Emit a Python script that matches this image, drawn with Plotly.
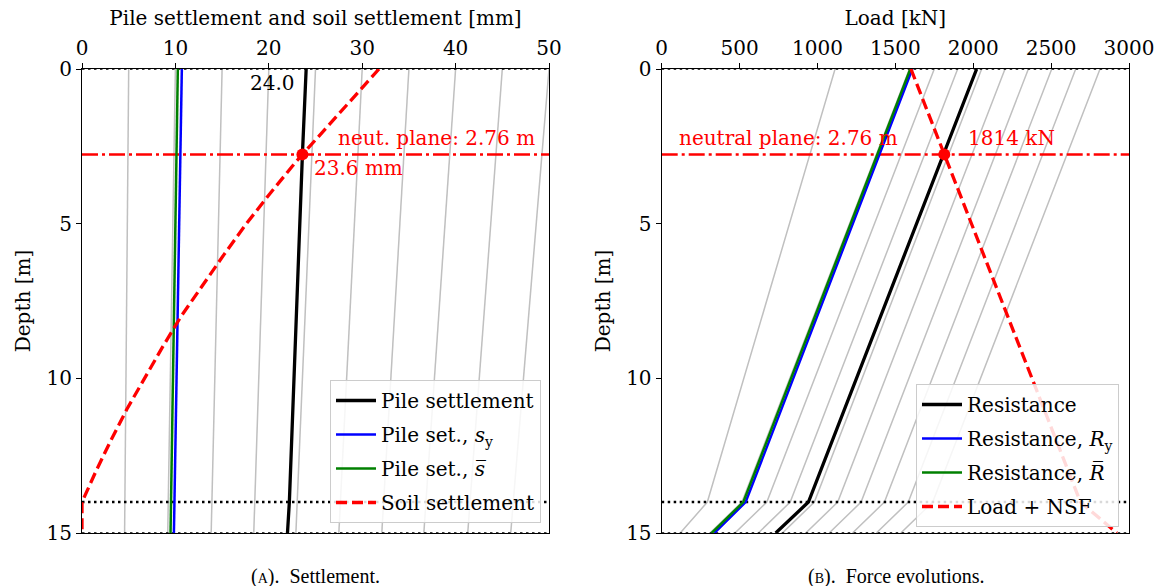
import plotly.graph_objects as go

# ---------------- data ----------------
# Left panel: settlements [mm] vs depth [m]
depth_soil = [0, 1, 2, 2.76, 3, 4, 5, 6, 7, 8, 9, 10, 11, 12, 13, 14, 15]
soil_settlement = [31.8, 28.8, 25.8, 23.6, 22.9, 20.2, 17.6, 15.2, 12.9, 10.6, 8.6, 6.7, 4.8, 3.1, 1.5, 0.0, 0.0]

depth_pile = [0, 2.76, 14, 15]
pile_settlement = [24.0, 23.6, 22.2, 22.0]
pile_set_sy = [10.69, 10.53, 9.90, 9.84]
pile_set_sbar = [10.26, 10.12, 9.53, 9.48]

depth_ends = [0, 15]
gray_set_head = [5, 10, 15, 20, 25, 30, 35, 40, 45, 50]
gray_set_toe = [4.56, 9.18, 13.83, 18.39, 22.9, 27.5, 32.1, 36.6, 41.3, 45.9]

# Right panel: forces [kN] vs depth [m]
depth_force = [0, 14, 15]
resistance = [2022, 942, 732]
resistance_Ry = [1609, 539, 338]
resistance_Rbar = [1596, 524, 321]
load_nsf = [1600, 2688, 2922]

gray_res_head = [1113, 1590, 1750, 1900, 2054, 2204, 2354, 2504, 2658, 2814]
gray_res_14 = [293, 515, 675, 825, 980, 1130, 1280, 1430, 1583, 1740]
gray_res_15 = [119, 310, 470, 620, 775, 925, 1075, 1225, 1378, 1535]

neutral_plane = 2.76
np_settlement = 23.6
np_force = 1814
layer_bottom = 14.0
pile_toe = 15.0

# ---------------- style ----------------
FONT = "DejaVu Serif"
FS = 20
GRAY = "#c0c0c0"
RED = "#ff0000"
W, H = 1161, 586

fig = go.Figure()

# ---- left panel ----
for h, t in zip(gray_set_head, gray_set_toe):
    fig.add_trace(go.Scatter(x=[h, t], y=depth_ends, mode="lines",
                             line=dict(color=GRAY, width=1.5), showlegend=False,
                             hoverinfo="skip", xaxis="x", yaxis="y"))
for yy, w in [(0, 1.5), (pile_toe, 1.5), (layer_bottom, 2.5)]:
    fig.add_trace(go.Scatter(x=[0, 50], y=[yy, yy], mode="lines",
                             line=dict(color="black", width=w, dash="2.5px,3.5px"),
                             showlegend=False, hoverinfo="skip", xaxis="x", yaxis="y"))
fig.add_trace(go.Scatter(x=[0, 50], y=[neutral_plane, neutral_plane], mode="lines",
                         line=dict(color=RED, width=2.5, dash="16px,4px,3px,4px"),
                         showlegend=False, hoverinfo="skip", xaxis="x", yaxis="y"))
fig.add_trace(go.Scatter(x=pile_settlement, y=depth_pile, mode="lines", name="Pile settlement",
                         line=dict(color="black", width=3.3), legend="legend",
                         legendgroup="a1", xaxis="x", yaxis="y"))
fig.add_trace(go.Scatter(x=pile_set_sy, y=depth_pile, mode="lines",
                         name="Pile set., <i>s</i><sub>y</sub>",
                         line=dict(color="#0000ff", width=2.5), legend="legend",
                         legendgroup="a2", xaxis="x", yaxis="y"))
fig.add_trace(go.Scatter(x=pile_set_sbar, y=depth_pile, mode="lines",
                         name="Pile set., <i>s\u0305</i>",
                         line=dict(color="#008000", width=2.5), legend="legend",
                         legendgroup="a3", xaxis="x", yaxis="y"))
fig.add_trace(go.Scatter(x=soil_settlement, y=depth_soil, mode="lines", name="Soil settlement",
                         line=dict(color=RED, width=3.3, dash="11px,5px"), legend="legend",
                         legendgroup="a4", xaxis="x", yaxis="y"))
fig.add_trace(go.Scatter(x=[np_settlement], y=[neutral_plane], mode="markers",
                         marker=dict(color=RED, size=12), showlegend=False,
                         hoverinfo="skip", xaxis="x", yaxis="y"))

# ---- right panel ----
for a, b, c in zip(gray_res_head, gray_res_14, gray_res_15):
    fig.add_trace(go.Scatter(x=[a, b, c], y=depth_force, mode="lines",
                             line=dict(color=GRAY, width=1.5), showlegend=False,
                             hoverinfo="skip", xaxis="x2", yaxis="y2"))
for yy, w in [(0, 1.5), (pile_toe, 1.5), (layer_bottom, 2.5)]:
    fig.add_trace(go.Scatter(x=[0, 3000], y=[yy, yy], mode="lines",
                             line=dict(color="black", width=w, dash="2.5px,3.5px"),
                             showlegend=False, hoverinfo="skip", xaxis="x2", yaxis="y2"))
fig.add_trace(go.Scatter(x=[0, 3000], y=[neutral_plane, neutral_plane], mode="lines",
                         line=dict(color=RED, width=2.5, dash="16px,4px,3px,4px"),
                         showlegend=False, hoverinfo="skip", xaxis="x2", yaxis="y2"))
fig.add_trace(go.Scatter(x=resistance, y=depth_force, mode="lines", name="Resistance",
                         line=dict(color="black", width=3.3), legend="legend2",
                         legendgroup="b1", xaxis="x2", yaxis="y2"))
fig.add_trace(go.Scatter(x=resistance_Ry, y=depth_force, mode="lines",
                         name="Resistance, <i>R</i><sub>y</sub>",
                         line=dict(color="#0000ff", width=2.5), legend="legend2",
                         legendgroup="b2", xaxis="x2", yaxis="y2"))
fig.add_trace(go.Scatter(x=resistance_Rbar, y=depth_force, mode="lines",
                         name="Resistance, <i>R\u0305</i>",
                         line=dict(color="#008000", width=2.5), legend="legend2",
                         legendgroup="b3", xaxis="x2", yaxis="y2"))
fig.add_trace(go.Scatter(x=load_nsf, y=depth_force, mode="lines", name="Load + NSF",
                         line=dict(color=RED, width=3.3, dash="11px,5px"), legend="legend2",
                         legendgroup="b4", xaxis="x2", yaxis="y2"))
fig.add_trace(go.Scatter(x=[np_force], y=[neutral_plane], mode="markers",
                         marker=dict(color=RED, size=12), showlegend=False,
                         hoverinfo="skip", xaxis="x2", yaxis="y2"))

# ---------------- layout ----------------
xl = [82 / W, 549 / W]
xr = [661.7 / W, 1129 / W]
yd = [1 - 533 / H, 1 - 69 / H]

xcommon = dict(side="top", ticks="outside", ticklen=5, tickwidth=1.2, tickcolor="black",
               showline=True, linecolor="black", linewidth=1.2, mirror=True, automargin=False,
               showgrid=False, zeroline=False, tickfont=dict(family=FONT, size=FS, color="black"))
ycommon = dict(range=[15, 0], ticks="outside", ticklen=5, tickwidth=1.2, tickcolor="black",
               showline=True, linecolor="black", linewidth=1.2, mirror=True, automargin=False,
               showgrid=False, zeroline=False, tickvals=[0, 5, 10, 15],
               tickfont=dict(family=FONT, size=FS, color="black"),
               title=dict(text="Depth [m]", font=dict(family=FONT, size=FS, color="black"), standoff=10))

legcommon = dict(font=dict(family=FONT, size=FS, color="black"), bgcolor="rgba(255,255,255,0.85)",
                 bordercolor="#cccccc", borderwidth=1, tracegroupgap=5,
                 xanchor="right", yanchor="bottom", itemwidth=40)

fig.update_layout(
    width=W, height=H,
    margin=dict(l=0, r=0, t=0, b=0, autoexpand=False),
    plot_bgcolor="white", paper_bgcolor="white",
    font=dict(family=FONT, size=FS, color="black"),
    xaxis=dict(domain=xl, range=[0, 50], anchor="y", tickvals=[0, 10, 20, 30, 40, 50],
               title=dict(text="Pile settlement and soil settlement [mm]",
                          font=dict(family=FONT, size=FS, color="black"), standoff=4), **xcommon),
    yaxis=dict(domain=yd, anchor="x", **ycommon),
    xaxis2=dict(domain=xr, range=[0, 3000], anchor="y2",
                tickvals=[0, 500, 1000, 1500, 2000, 2500, 3000],
                title=dict(text="Load [kN]", font=dict(family=FONT, size=FS, color="black"),
                           standoff=4), **xcommon),
    yaxis2=dict(domain=yd, anchor="x2", **ycommon),
    legend=dict(x=541 / W, y=1 - 523 / H, **legcommon),
    legend2=dict(x=1119 / W, y=1 - 527 / H, **legcommon),
    showlegend=True,
)

ann = []
ann.append(dict(x=23.0, y=0.45, xref="x", yref="y", text="24.0", showarrow=False,
                xanchor="right", yanchor="middle", font=dict(family=FONT, size=FS, color="black")))
ann.append(dict(x=27.2, y=2.23, xref="x", yref="y", text="neut. plane: 2.76 m", showarrow=False,
                xanchor="left", yanchor="middle", font=dict(family=FONT, size=FS, color=RED)))
ann.append(dict(x=24.6, y=3.2, xref="x", yref="y", text="23.6 mm", showarrow=False,
                xanchor="left", yanchor="middle", font=dict(family=FONT, size=FS, color=RED)))
ann.append(dict(x=100, y=2.23, xref="x2", yref="y2", text="neutral plane: 2.76 m", showarrow=False,
                xanchor="left", yanchor="middle", font=dict(family=FONT, size=FS, color=RED)))
ann.append(dict(x=1955, y=2.23, xref="x2", yref="y2", text="1814 kN", showarrow=False,
                xanchor="left", yanchor="middle", font=dict(family=FONT, size=FS, color=RED)))
ann.append(dict(x=315 / W, y=1 - 576 / H, xref="paper", yref="paper",
                text="(<span style='font-size:14px'>A</span>).  Settlement.", showarrow=False,
                xanchor="center", yanchor="middle",
                font=dict(family="Liberation Serif", size=20, color="black")))
ann.append(dict(x=896 / W, y=1 - 576 / H, xref="paper", yref="paper",
                text="(<span style='font-size:14px'>B</span>).  Force evolutions.", showarrow=False,
                xanchor="center", yanchor="middle",
                font=dict(family="Liberation Serif", size=20, color="black")))
fig.update_layout(annotations=ann)

fig.write_html("out.html")
